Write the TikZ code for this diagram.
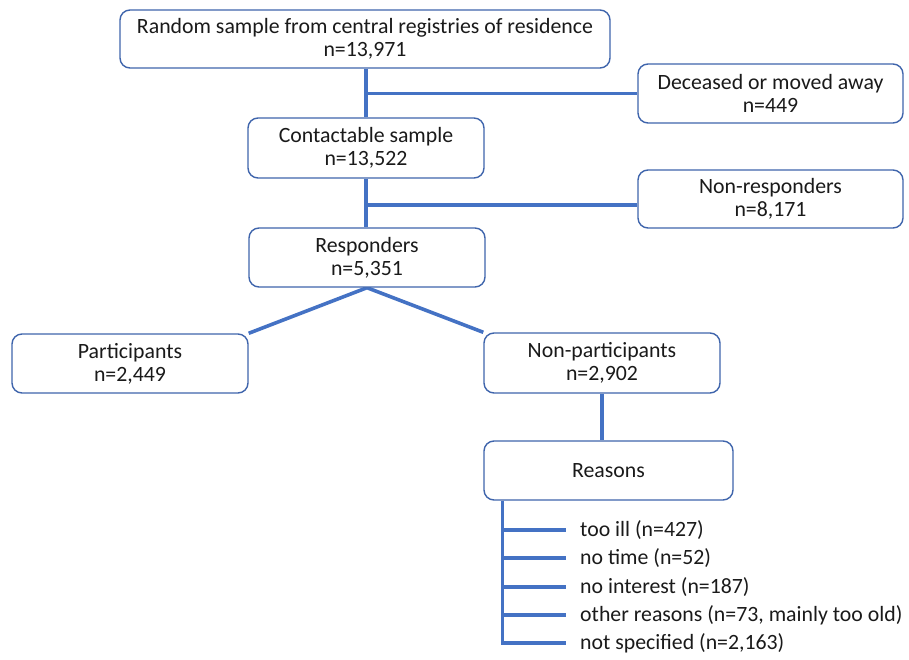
\documentclass[tikz,border=0pt]{standalone}
\usepackage{fontspec}
\setmainfont{Carlito}
\usetikzlibrary{backgrounds}
\definecolor{conn}{HTML}{4472C4}
\definecolor{bord}{HTML}{3F65AC}
\definecolor{txt}{HTML}{1A1A1A}
\begin{document}
\begin{tikzpicture}[x=1pt,y=-1pt,
  box/.style={draw=bord,line width=1.4pt,rounded corners=10pt,fill=white,inner sep=0pt,align=center,text=txt,font=\fontsize{21.8}{23}\selectfont},
  reason/.style={anchor=west,inner sep=0pt,text=txt,font=\fontsize{21.8}{23}\selectfont},
  link/.style={draw=conn,line width=3.6pt}]
\useasboundingbox (0,0) rectangle (909,660);
\node[box,minimum width=490pt,minimum height=58pt] (top) at (365,39) {Random sample from central registries of residence\\n=13,971};
\node[box,minimum width=265pt,minimum height=59pt] (dec) at (770.5,93.5) {Deceased or moved away\\n=449};
\node[box,minimum width=236pt,minimum height=60pt] (con) at (366,148) {Contactable sample\\n=13,522};
\node[box,minimum width=265pt,minimum height=58pt] (nres) at (770.5,199) {Non-responders\\n=8,171};
\node[box,minimum width=236pt,minimum height=59pt] (res) at (367,257.5) {Responders\\n=5,351};
\node[box,minimum width=236pt,minimum height=59pt] (par) at (130,363.5) {Participants\\n=2,449};
\node[box,minimum width=236pt,minimum height=60pt] (npar) at (602,363) {Non-participants\\n=2,902};
\node[box,minimum width=249pt,minimum height=59pt] (rea) at (608.5,470.5) {Reasons};
\node[reason] (r1) at (580,530) {too ill (n=427)};
\node[reason] (r2) at (580,558) {no time (n=52)};
\node[reason] (r3) at (580,587) {no interest (n=187)};
\node[reason] (r4) at (580,615) {other reasons (n=73, mainly too old)};
\node[reason] (r5) at (580,643) {not specified (n=2,163)};
\coordinate (rb) at ([xshift=19pt]rea.south west);
\coordinate (nb) at ([yshift=-6pt]nres.west);
\begin{scope}[on background layer]
\draw[link] (con.north |- top.south) -- (con.north);
\draw[link] (con.north |- dec.west) -- (dec.west);
\draw[link] (con.south) -- (con.south |- res.north);
\draw[link] (con.south |- nb) -- (nb);
\draw[link] (par.north east) -- (res.south) -- (npar.north west);
\draw[link] (npar.south) -- (npar.south |- rea.north);
\draw[link] (rb) -- (rb |- r5.west) -- ([xshift=-14pt]r5.west);
\draw[link] (rb |- r1.west) -- ([xshift=-14pt]r1.west);
\draw[link] (rb |- r2.west) -- ([xshift=-14pt]r2.west);
\draw[link] (rb |- r3.west) -- ([xshift=-14pt]r3.west);
\draw[link] (rb |- r4.west) -- ([xshift=-14pt]r4.west);
\end{scope}
\end{tikzpicture}
\end{document}
